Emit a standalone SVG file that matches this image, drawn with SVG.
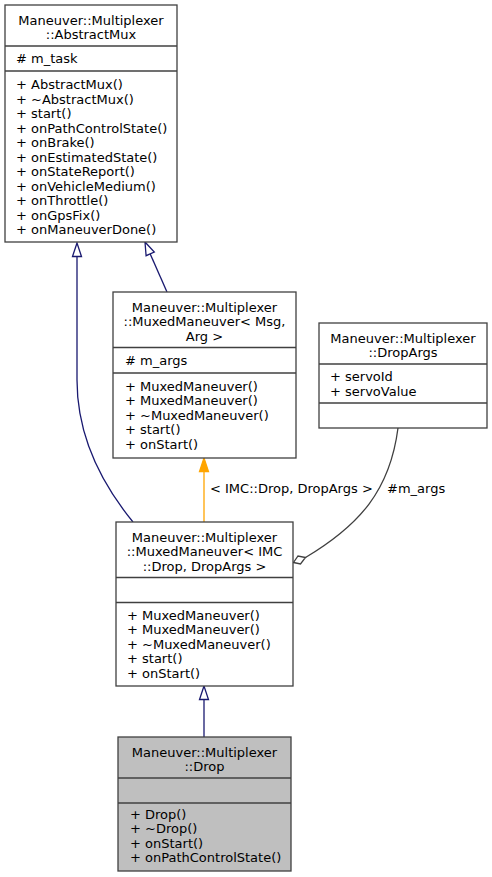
<svg xmlns="http://www.w3.org/2000/svg" width="492" height="877" viewBox="0 0 492 877">
<style>
text{font-family:"DejaVu Sans","Liberation Sans",sans-serif;font-size:13px;fill:#000}
.c{text-anchor:middle}
.box{fill:#fff;stroke:#404040;stroke-width:1.3}
.gray{fill:#bfbfbf}
.sep{stroke:#404040;stroke-width:1.3}
.inh{fill:none;stroke:#191970;stroke-width:1.3}
.inhh{fill:#fff;stroke:#191970;stroke-width:1.3}
.tpl{fill:none;stroke:#ffa500;stroke-width:1.3}
.tplh{fill:#ffa500;stroke:#ffa500;stroke-width:1.3}
.use{fill:none;stroke:#404040;stroke-width:1.3}
.useh{fill:#fff;stroke:#404040;stroke-width:1.3}
</style>
<rect width="492" height="877" fill="#fff"/>
<g id="edges">
<path class="inh" d="M133,522 C106,489 77,440 77,380 L77,256.5"/>
<polygon class="inhh" points="77,243 72.5,256.5 81.5,256.5"/>
<path class="inh" d="M167,292 L150.2,253.9"/>
<polygon class="inhh" points="145,242 154.3,252.1 146.1,255.7"/>
<path class="tpl" d="M204,522 L204,471.5"/>
<polygon class="tplh" points="204,458 199.5,471.5 208.5,471.5"/>
<text x="210" y="493">&lt; IMC::Drop, DropArgs &gt;</text>
<path class="use" d="M398,428 C390,490 360,525 305.5,557.5"/>
<polygon class="useh" points="293.5,562.5 300.5,564 305.5,557.5 298,556"/>
<text x="387" y="493">#m_args</text>
<path class="inh" d="M204,737 L204,699.5"/>
<polygon class="inhh" points="204,686 199.5,699.5 208.5,699.5"/>
</g>
<g id="AbstractMux">
<rect class="box" x="5" y="5" width="172" height="237"/>
<text class="c" x="91" y="24.5">Maneuver::Multiplexer</text>
<text class="c" x="91" y="39">::AbstractMux</text>
<line class="sep" x1="5" y1="46" x2="177" y2="46"/>
<text x="16" y="63">#  m_task</text>
<line class="sep" x1="5" y1="71" x2="177" y2="71"/>
<text x="16" y="89">+ AbstractMux()</text>
<text x="16" y="103.5">+ ~AbstractMux()</text>
<text x="16" y="118">+ start()</text>
<text x="16" y="132.5">+ onPathControlState()</text>
<text x="16" y="147">+ onBrake()</text>
<text x="16" y="161.5">+ onEstimatedState()</text>
<text x="16" y="176">+ onStateReport()</text>
<text x="16" y="190.5">+ onVehicleMedium()</text>
<text x="16" y="205">+ onThrottle()</text>
<text x="16" y="219.5">+ onGpsFix()</text>
<text x="16" y="234">+ onManeuverDone()</text>
</g>
<g id="MuxedManeuverMsgArg">
<rect class="box" x="113" y="292" width="183" height="166"/>
<text class="c" x="204.5" y="311.5">Maneuver::Multiplexer</text>
<text class="c" x="204.5" y="326">::MuxedManeuver&lt; Msg,</text>
<text class="c" x="204.5" y="340.5">Arg &gt;</text>
<line class="sep" x1="113" y1="347.5" x2="296" y2="347.5"/>
<text x="125" y="365">#  m_args</text>
<line class="sep" x1="113" y1="373" x2="296" y2="373"/>
<text x="125" y="390.5">+ MuxedManeuver()</text>
<text x="125" y="405">+ MuxedManeuver()</text>
<text x="125" y="419.5">+ ~MuxedManeuver()</text>
<text x="125" y="434">+ start()</text>
<text x="125" y="448.5">+ onStart()</text>
</g>
<g id="DropArgs">
<rect class="box" x="319" y="323" width="168" height="105"/>
<text class="c" x="403" y="342.5">Maneuver::Multiplexer</text>
<text class="c" x="403" y="357">::DropArgs</text>
<line class="sep" x1="319" y1="364" x2="487" y2="364"/>
<text x="330" y="381">+ servoId</text>
<text x="330" y="395.5">+ servoValue</text>
<line class="sep" x1="319" y1="403" x2="487" y2="403"/>
</g>
<g id="MuxedManeuverIMC">
<rect class="box" x="116" y="522" width="177" height="164"/>
<text class="c" x="204.5" y="541.5">Maneuver::Multiplexer</text>
<text class="c" x="204.5" y="556">::MuxedManeuver&lt; IMC</text>
<text class="c" x="204.5" y="570.5">::Drop, DropArgs &gt;</text>
<line class="sep" x1="116" y1="577.5" x2="293" y2="577.5"/>
<line class="sep" x1="116" y1="602.5" x2="293" y2="602.5"/>
<text x="127" y="619.5">+ MuxedManeuver()</text>
<text x="127" y="634">+ MuxedManeuver()</text>
<text x="127" y="648.5">+ ~MuxedManeuver()</text>
<text x="127" y="663">+ start()</text>
<text x="127" y="677.5">+ onStart()</text>
</g>
<g id="Drop">
<rect class="box gray" x="118" y="737" width="173" height="134"/>
<text class="c" x="204.5" y="756.5">Maneuver::Multiplexer</text>
<text class="c" x="204.5" y="771">::Drop</text>
<line class="sep" x1="118" y1="778" x2="291" y2="778"/>
<line class="sep" x1="118" y1="803" x2="291" y2="803"/>
<text x="130" y="818.5">+ Drop()</text>
<text x="130" y="833">+ ~Drop()</text>
<text x="130" y="847.5">+ onStart()</text>
<text x="130" y="862">+ onPathControlState()</text>
</g>
</svg>
